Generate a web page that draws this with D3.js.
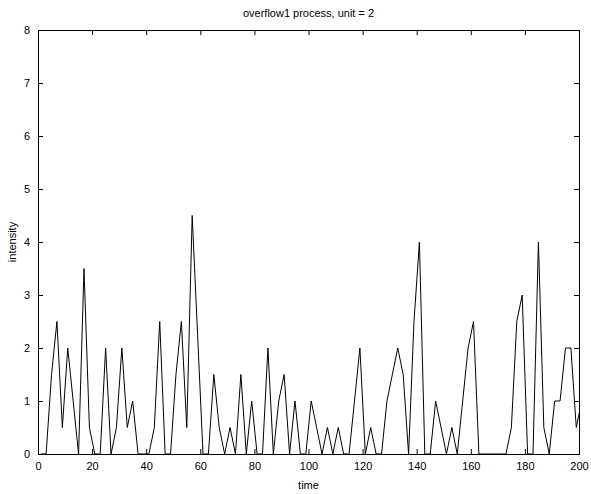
<!DOCTYPE html>
<html>
<head>
<meta charset="utf-8">
<script src="https://cdn.jsdelivr.net/npm/d3@7"></script>
<style>
  html, body { margin: 0; padding: 0; background: #fff; }
  svg { display: block; }
  text { font-family: "Liberation Sans", Arial, Helvetica, sans-serif; fill: #000; }
</style>
</head>
<body>
<svg id="chart" width="591" height="494"></svg>
<script>
// ---- data ----
const timeValues = [1,3,5,7,9,11,13,15,17,19,21,23,25,27,29,31,33,35,37,39,41,43,45,47,49,51,53,55,57,59,61,63,65,67,69,71,73,75,77,79,81,83,85,87,89,91,93,95,97,99,101,103,105,107,109,111,113,115,117,119,121,123,125,127,129,131,133,135,137,139,141,143,145,147,149,151,153,155,157,159,161,163,165,167,169,171,173,175,177,179,181,183,185,187,189,191,193,195,197,199,201];
const intensityValues = [0,0,1.5,2.5,0.5,2,1,0,3.5,0.5,0,0,2,0,0.5,2,0.5,1,0,0,0,0.5,2.5,0,0,1.5,2.5,0.5,4.5,2.25,0,0,1.5,0.5,0,0.5,0,1.5,0,1,0,0,2,0,1,1.5,0,1,0,0,1,0.5,0,0.5,0,0.5,0,0,1,2,0,0.5,0,0,1,1.5,2,1.5,0,2.5,4,0,0,1,0.5,0,0.5,0,1,2,2.5,0,0,0,0,0,0,0.5,2.5,3,0,0,4,0.5,0,1,1,2,2,0.5,1];
const xTicks = [0,20,40,60,80,100,120,140,160,180,200];
const yTicks = [0,1,2,3,4,5,6,7,8];
const titleText = "overflow1 process, unit = 2";
const xLabel = "time";
const yLabel = "intensity";

// ---- layout ----
const margin = {left: 38, right: 12, top: 30, bottom: 40};
const W = 591, H = 494;
const svg = d3.select("#chart");
const iw = W - margin.left - margin.right;
const ih = H - margin.top - margin.bottom;

const x = d3.scaleLinear().domain([0, 200]).range([margin.left, margin.left + iw]);
const y = d3.scaleLinear().domain([0, 8]).range([margin.top + ih, margin.top]);

const defs = svg.append("defs");
defs.append("clipPath").attr("id", "clip")
  .append("rect").attr("x", margin.left).attr("y", margin.top).attr("width", iw).attr("height", ih);

// data line
const pts = timeValues.map((t, i) => [t, intensityValues[i]]);
svg.append("path")
  .datum(pts)
  .attr("clip-path", "url(#clip)")
  .attr("fill", "none")
  .attr("stroke", "#000")
  .attr("stroke-width", 1)
  .attr("d", d3.line().x(d => x(d[0])).y(d => y(d[1])));

// axes (inward ticks like MATLAB)
const tickLen = 5;
const fs = 11;
const bottomAxis = d3.axisBottom(x).tickValues(xTicks).tickSize(-tickLen).tickPadding(tickLen + 3).tickFormat(d3.format("d"));
const topAxis = d3.axisTop(x).tickValues(xTicks).tickSize(-tickLen).tickFormat("");
const leftAxis = d3.axisLeft(y).tickValues(yTicks).tickSize(-tickLen).tickPadding(tickLen + 3).tickFormat(d3.format("d"));
const rightAxis = d3.axisRight(y).tickValues(yTicks).tickSize(-tickLen).tickFormat("");

function style(g) {
  g.selectAll("path.domain").attr("stroke", "#000").attr("stroke-width", 1);
  g.selectAll(".tick line").attr("stroke", "#000").attr("stroke-width", 1);
  g.selectAll(".tick text").attr("font-size", fs).attr("font-family", "Liberation Sans, Arial, sans-serif").attr("fill", "#000");
}

svg.append("g").attr("transform", `translate(0,${margin.top + ih})`).call(bottomAxis).call(style);
svg.append("g").attr("transform", `translate(0,${margin.top})`).call(topAxis).call(style);
svg.append("g").attr("transform", `translate(${margin.left},0)`).call(leftAxis).call(style);
svg.append("g").attr("transform", `translate(${margin.left + iw},0)`).call(rightAxis).call(style);

// title and labels
svg.append("text")
  .attr("x", margin.left + iw / 2).attr("y", margin.top - 13)
  .attr("text-anchor", "middle").attr("font-size", fs)
  .text(titleText);

svg.append("text")
  .attr("x", margin.left + iw / 2).attr("y", margin.top + ih + 35)
  .attr("text-anchor", "middle").attr("font-size", fs)
  .text(xLabel);

svg.append("text")
  .attr("transform", `translate(${margin.left - 22},${margin.top + ih / 2}) rotate(-90)`)
  .attr("text-anchor", "middle").attr("font-size", fs)
  .text(yLabel);
</script>
</body>
</html>
